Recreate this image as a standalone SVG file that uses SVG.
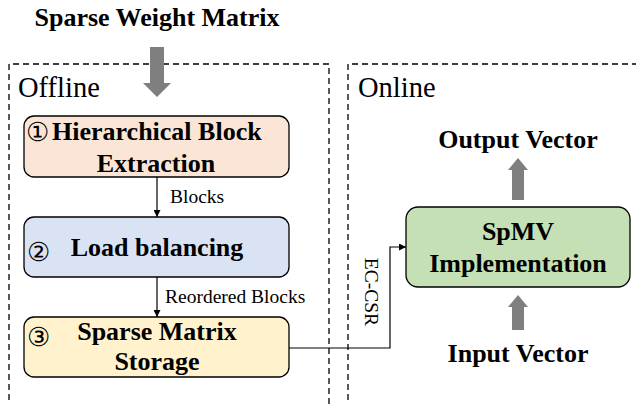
<svg xmlns="http://www.w3.org/2000/svg" width="636" height="404" viewBox="0 0 636 404">
<defs>
<style>
.t{font-family:'Liberation Serif','Times New Roman','DejaVu Serif',serif;fill:#000}
.b{font-weight:bold;font-size:26px}
.lbl{font-size:19.5px}
.reg{font-size:28.5px}
.num{font-size:26px}
.dash{fill:none;stroke:#000;stroke-width:1.3;stroke-dasharray:6 4}
.box{stroke:#000;stroke-width:1.3}
.gray{fill:#7f7f7f}
.conn{fill:none;stroke:#000;stroke-width:1.2}
</style>
<marker id="ah" viewBox="0 0 10 10" refX="10" refY="5" markerWidth="7" markerHeight="7" markerUnits="userSpaceOnUse" orient="auto">
<path d="M0,0 L10,5 L0,10 z" fill="#000"/>
</marker>
</defs>
<rect width="636" height="404" fill="#fff"/>
<g id="regions">
<path class="dash" d="M9,410 V64 H329 V410"/>
<path class="dash" d="M348,410 V64 H640"/>
<text class="t reg" x="18" y="97">Offline</text>
<text class="t reg" x="358" y="97">Online</text>
</g>
<g id="title">
<text class="t b" x="157" y="26" text-anchor="middle">Sparse Weight Matrix</text>
<path class="gray" d="M150,47 H164 V83 H171 L157,97 L143,83 H150 Z"/>
</g>
<g id="node1">
<rect class="box" x="24" y="116" width="265" height="61" rx="10" fill="#FBE5D6"/>
<text class="t num" x="26" y="140.5">①</text>
<text class="t b" x="52" y="140">Hierarchical Block</text>
<text class="t b" x="156" y="172" text-anchor="middle">Extraction</text>
</g>
<g id="node2">
<rect class="box" x="24" y="217" width="265" height="60" rx="10" fill="#DAE3F3"/>
<text class="t num" x="27" y="260.5">②</text>
<text class="t b" x="157" y="256" text-anchor="middle">Load balancing</text>
</g>
<g id="node3">
<rect class="box" x="24" y="317" width="265" height="60" rx="10" fill="#FFF2CC"/>
<text class="t num" x="27" y="346">③</text>
<text class="t b" x="157" y="340" text-anchor="middle">Sparse Matrix</text>
<text class="t b" x="157" y="370" text-anchor="middle">Storage</text>
</g>
<g id="spmv">
<rect class="box" x="406" y="207" width="224" height="80" rx="12" fill="#C5E0B4"/>
<text class="t b" x="518" y="240" text-anchor="middle">SpMV</text>
<text class="t b" x="518" y="272" text-anchor="middle">Implementation</text>
</g>
<g id="output">
<text class="t b" x="518" y="148" text-anchor="middle">Output Vector</text>
<path class="gray" d="M512,200 V170 H508 L518,158 L528,170 H524 V200 Z"/>
</g>
<g id="input">
<text class="t b" x="518" y="362" text-anchor="middle">Input Vector</text>
<path class="gray" d="M512,330 V307 H508 L518,295 L528,307 H524 V330 Z"/>
</g>
<g id="connectors">
<line class="conn" x1="157" y1="177" x2="157" y2="217" marker-end="url(#ah)"/>
<text class="t lbl" x="170" y="203">Blocks</text>
<line class="conn" x1="157" y1="277" x2="157" y2="317" marker-end="url(#ah)"/>
<text class="t lbl" x="165" y="303">Reordered Blocks</text>
<path class="conn" d="M289,348 H390 V247 H406" marker-end="url(#ah)"/>
<text class="t lbl" transform="translate(365,292) rotate(90)" text-anchor="middle">EC-CSR</text>
</g>
</svg>
